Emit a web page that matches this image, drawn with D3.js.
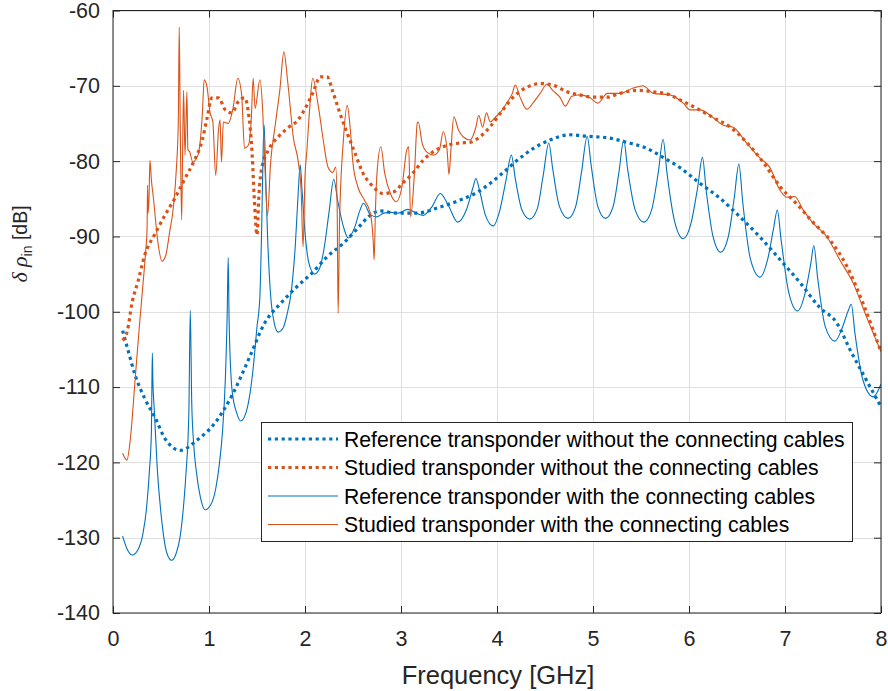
<!DOCTYPE html>
<html>
<head>
<meta charset="utf-8">
<script src="https://cdn.jsdelivr.net/npm/d3@7"></script>
<style>
  body { margin: 0; background: #fff; }
  svg { display: block; font-family: "Liberation Sans", Arial, sans-serif; }
</style>
</head>
<body>
<svg id="chart" width="888" height="691"></svg>
<script>
// [frequency GHz, delta rho_in dB]
const refNoCables = [
  [0.10,-102.5],[0.15,-104.8],[0.23,-108.4],[0.33,-111.5],[0.44,-114.1],[0.54,-116.8],[0.70,-118.4],
  [0.88,-117.0],[1.06,-114.8],[1.24,-111.1],[1.41,-106.4],[1.58,-101.5],[1.76,-98.7],[1.93,-96.5],
  [2.07,-94.9],[2.23,-92.7],[2.40,-90.9],[2.55,-88.9],[2.66,-87.4],[2.78,-86.6],[2.95,-86.9],
  [3.17,-86.9],[3.38,-86.2],[3.61,-85.2],[3.80,-84.1],[4.03,-81.9],[4.21,-79.9],[4.38,-78.3],
  [4.55,-77.2],[4.76,-76.5],[4.94,-76.7],[5.15,-76.9],[5.35,-77.5],[5.56,-78.3],[5.73,-79.5],
  [5.91,-80.9],[6.11,-82.9],[6.32,-84.9],[6.53,-87.4],[6.74,-90.1],[6.95,-93.1],[7.16,-96.2],
  [7.36,-99.4],[7.54,-101.5],[7.68,-105.1],[7.81,-108.2],[8.00,-112.6]
];

const studiedNoCables = [
  [0.10,-103.8],[0.15,-102.5],[0.20,-98.7],[0.26,-96.0],[0.33,-92.5],[0.44,-89.6],[0.54,-87.2],
  [0.65,-84.8],[0.75,-82.3],[0.84,-80.1],[0.93,-77.2],[0.98,-74.3],[1.03,-71.6],[1.10,-71.6],
  [1.17,-73.2],[1.24,-73.6],[1.30,-72.2],[1.37,-71.6],[1.41,-73.5],[1.45,-79.2],[1.47,-84.5],
  [1.50,-89.8],[1.52,-84.5],[1.55,-80.9],[1.62,-78.5],[1.72,-76.8],[1.82,-75.6],[1.93,-74.5],
  [1.98,-73.5],[2.08,-71.0],[2.16,-68.8],[2.23,-68.8],[2.29,-70.8],[2.36,-73.5],[2.44,-76.3],
  [2.52,-78.9],[2.60,-81.5],[2.71,-83.4],[2.81,-84.3],[2.92,-84.1],[3.02,-82.9],[3.13,-81.5],
  [3.23,-79.9],[3.33,-78.8],[3.48,-77.9],[3.61,-77.6],[3.72,-77.5],[3.82,-76.8],[3.93,-75.4],
  [4.06,-73.2],[4.17,-71.5],[4.31,-70.2],[4.45,-69.7],[4.58,-69.9],[4.73,-70.8],[4.86,-71.2],
  [5.00,-71.5],[5.15,-71.5],[5.28,-71.0],[5.46,-70.6],[5.63,-70.8],[5.80,-71.2],[5.91,-71.9],
  [6.08,-73.0],[6.25,-74.2],[6.43,-75.5],[6.60,-77.5],[6.77,-80.1],[6.95,-83.4],[7.13,-85.8],
  [7.29,-88.1],[7.47,-90.5],[7.65,-94.1],[7.81,-98.8],[8.00,-105.3]
];

const refWithCables = [
  [0.10,-129.8],[0.15,-131.6],[0.20,-132.3],[0.26,-131.6],[0.31,-129.6],[0.35,-126.0],[0.38,-121.0],
  [0.40,-116.0],[0.405,-110.0],[0.41,-105.5],[0.415,-109.0],[0.43,-113.0],[0.46,-120.6],[0.51,-128.0],
  [0.56,-132.0],[0.61,-133.0],[0.66,-132.0],[0.70,-129.8],[0.74,-125.0],[0.76,-121.5],[0.79,-113.5],
  [0.805,-99.8],[0.82,-112.0],[0.84,-117.5],[0.87,-121.4],[0.91,-124.6],[0.96,-126.3],[1.02,-125.6],
  [1.07,-123.5],[1.11,-120.0],[1.14,-116.0],[1.17,-109.0],[1.19,-100.0],[1.20,-92.8],[1.21,-101.5],
  [1.24,-110.4],[1.29,-113.5],[1.33,-114.5],[1.38,-113.6],[1.42,-111.4],[1.46,-107.5],[1.50,-102.0],
  [1.53,-98.0],[1.55,-88.0],[1.565,-78.0],[1.575,-75.2],[1.59,-82.0],[1.61,-90.0],[1.64,-97.5],
  [1.68,-101.5],[1.72,-102.7],[1.77,-102.2],[1.81,-100.5],[1.86,-97.0],[1.90,-91.0],[1.93,-84.0],
  [1.95,-80.5],[1.97,-84.0],[2.00,-89.5],[2.04,-93.5],[2.10,-95.0],[2.15,-94.3],[2.20,-91.5],
  [2.25,-86.8],[2.30,-82.4],[2.34,-85.2],[2.40,-88.7],[2.45,-90.2],[2.52,-88.7],[2.57,-86.6],
  [2.61,-85.6],[2.68,-87.1],[2.75,-87.4],[2.82,-86.9],[2.89,-86.8],[2.97,-86.9],[3.07,-86.4],
  [3.16,-86.9],[3.23,-87.2],[3.32,-86.1],[3.41,-84.3],[3.49,-85.8],[3.59,-88.1],[3.68,-86.5],
  [3.75,-83.5],[3.78,-82.3],[3.82,-84.0],[3.88,-87.2],[3.96,-88.6],[4.03,-86.5],[4.09,-82.8],
  [4.15,-79.2],[4.19,-82.3],[4.26,-86.5],[4.34,-87.7],[4.42,-86.3],[4.48,-82.0],[4.54,-77.6],
  [4.58,-81.0],[4.65,-86.0],[4.74,-87.6],[4.82,-86.0],[4.88,-81.5],[4.94,-76.7],[4.98,-80.5],
  [5.05,-86.0],[5.13,-87.6],[5.21,-86.0],[5.27,-81.5],[5.32,-77.2],[5.36,-81.0],[5.44,-86.5],
  [5.53,-88.1],[5.61,-86.5],[5.68,-81.5],[5.73,-77.1],[5.77,-81.5],[5.85,-88.0],[5.94,-90.3],
  [6.02,-88.3],[6.09,-83.5],[6.14,-79.5],[6.18,-84.0],[6.25,-90.0],[6.33,-92.1],[6.41,-90.0],
  [6.47,-85.0],[6.52,-80.4],[6.56,-85.5],[6.64,-93.0],[6.74,-95.4],[6.82,-93.0],[6.88,-89.0],
  [6.92,-86.5],[6.96,-90.5],[7.04,-97.5],[7.13,-99.9],[7.21,-97.5],[7.27,-93.5],[7.30,-91.2],
  [7.34,-95.5],[7.42,-102.0],[7.52,-103.9],[7.60,-102.0],[7.66,-99.8],[7.69,-99.0],[7.73,-103.0],
  [7.81,-109.0],[7.92,-111.3],[8.00,-109.6]
];

const studiedWithCables = [
  [0.10,-118.8],[0.145,-119.7],[0.18,-117.0],[0.23,-109.1],[0.28,-101.1],[0.31,-96.7],[0.34,-92.0],
  [0.355,-89.0],[0.36,-83.2],[0.365,-86.9],[0.375,-85.0],[0.385,-79.9],[0.40,-82.5],[0.42,-84.8],
  [0.47,-91.0],[0.51,-93.3],[0.55,-92.5],[0.59,-89.4],[0.63,-86.0],[0.66,-81.0],[0.68,-75.0],
  [0.69,-62.2],[0.70,-74.5],[0.715,-87.8],[0.725,-79.0],[0.735,-70.6],[0.75,-79.2],[0.77,-70.8],
  [0.78,-78.5],[0.80,-78.8],[0.83,-80.1],[0.885,-79.2],[0.93,-73.9],[0.95,-69.2],[0.98,-70.2],
  [1.01,-73.5],[1.04,-74.8],[1.07,-81.9],[1.10,-75.7],[1.115,-74.5],[1.13,-80.1],[1.15,-74.8],
  [1.20,-75.0],[1.25,-73.0],[1.30,-69.0],[1.34,-71.2],[1.37,-78.3],[1.41,-77.9],[1.44,-74.5],
  [1.46,-69.0],[1.48,-73.0],[1.53,-69.2],[1.56,-73.5],[1.58,-80.0],[1.61,-87.2],[1.64,-80.5],
  [1.69,-75.2],[1.74,-70.3],[1.78,-65.5],[1.82,-69.5],[1.88,-77.0],[1.93,-80.1],[1.96,-84.0],
  [1.98,-91.4],[2.00,-82.0],[2.02,-78.5],[2.05,-72.8],[2.08,-69.0],[2.14,-72.8],[2.19,-77.2],
  [2.24,-80.8],[2.29,-81.5],[2.32,-80.8],[2.335,-86.1],[2.345,-100.2],[2.36,-88.0],[2.40,-77.2],
  [2.44,-72.6],[2.47,-75.5],[2.50,-80.3],[2.55,-83.4],[2.62,-85.2],[2.68,-86.9],[2.71,-90.5],
  [2.72,-93.1],[2.735,-86.0],[2.75,-81.6],[2.79,-78.1],[2.83,-81.6],[2.89,-84.3],[2.95,-85.4],
  [3.01,-83.4],[3.06,-78.5],[3.08,-78.1],[3.10,-87.4],[3.14,-81.6],[3.17,-74.9],[3.18,-74.8],
  [3.22,-77.6],[3.27,-78.8],[3.34,-79.2],[3.40,-78.5],[3.44,-76.1],[3.48,-78.5],[3.50,-81.8],
  [3.52,-78.5],[3.55,-74.1],[3.60,-75.9],[3.65,-76.8],[3.72,-77.2],[3.78,-75.5],[3.81,-73.9],
  [3.85,-75.5],[3.89,-73.6],[3.93,-74.8],[3.98,-74.2],[4.03,-73.6],[4.10,-72.3],[4.16,-71.0],
  [4.19,-69.9],[4.24,-71.5],[4.31,-73.1],[4.38,-72.2],[4.45,-71.0],[4.52,-69.8],[4.58,-70.6],
  [4.66,-71.6],[4.71,-72.7],[4.78,-71.4],[4.86,-71.2],[4.97,-71.6],[5.05,-72.3],[5.15,-71.0],
  [5.28,-71.0],[5.42,-70.3],[5.52,-70.0],[5.63,-71.0],[5.80,-71.2],[5.94,-72.3],[6.01,-73.2],
  [6.11,-73.2],[6.25,-74.2],[6.35,-75.2],[6.46,-75.5],[6.60,-77.6],[6.74,-79.6],[6.84,-80.8],
  [6.95,-83.9],[7.02,-84.8],[7.10,-84.7],[7.19,-86.5],[7.29,-88.2],[7.44,-90.1],[7.57,-93.1],
  [7.71,-96.2],[7.85,-100.7],[8.00,-105.3]
];

const xTicks = [0, 1, 2, 3, 4, 5, 6, 7, 8];
const yTicks = [-140, -130, -120, -110, -100, -90, -80, -70, -60];

const legendLabels = [
  'Reference transponder without the connecting cables',
  'Studied transponder without the connecting cables',
  'Reference transponder with the connecting cables',
  'Studied transponder with the connecting cables'
];

const BLUE = '#0072BD';
const ORANGE = '#D95319';
const AXIS_COLOR = '#262626';
const GRID_COLOR = '#dfdfdf';
const TICK_LEN = 7;

const PLOT = { left: 113, right: 881, top: 10.5, bottom: 613 };

const seriesList = [
  { data: refNoCables, color: BLUE, dotted: true, label: legendLabels[0] },
  { data: studiedNoCables, color: ORANGE, dotted: true, label: legendLabels[1] },
  { data: refWithCables, color: BLUE, dotted: false, label: legendLabels[2] },
  { data: studiedWithCables, color: ORANGE, dotted: false, label: legendLabels[3] }
];

const svg = d3.select('#chart');

const x = d3.scaleLinear().domain([0, 8]).range([PLOT.left, PLOT.right]);
const y = d3.scaleLinear().domain([-140, -60]).range([PLOT.bottom, PLOT.top]);

drawGrid();
drawSeries();
drawAxes();
drawLegend();
drawLabels();

function drawGrid() {
  const grid = svg.append('g').attr('class', 'grid');

  grid.selectAll('.gx')
    .data(xTicks)
    .enter()
    .append('line')
    .attr('x1', d => Math.round(x(d)) + 0.5)
    .attr('x2', d => Math.round(x(d)) + 0.5)
    .attr('y1', PLOT.top)
    .attr('y2', PLOT.bottom)
    .attr('stroke', GRID_COLOR);

  grid.selectAll('.gy')
    .data(yTicks)
    .enter()
    .append('line')
    .attr('x1', PLOT.left)
    .attr('x2', PLOT.right)
    .attr('y1', d => Math.round(y(d)) + 0.5)
    .attr('y2', d => Math.round(y(d)) + 0.5)
    .attr('stroke', GRID_COLOR);
}

function drawSeries() {
  svg.append('clipPath')
    .attr('id', 'plot-clip')
    .append('rect')
    .attr('x', PLOT.left)
    .attr('y', PLOT.top)
    .attr('width', PLOT.right - PLOT.left)
    .attr('height', PLOT.bottom - PLOT.top);

  const line = d3.line()
    .x(d => x(d[0]))
    .y(d => y(d[1]))
    .curve(d3.curveMonotoneX);

  svg.append('g')
    .attr('clip-path', 'url(#plot-clip)')
    .selectAll('path')
    .data(seriesList)
    .enter()
    .append('path')
    .attr('d', s => line(s.data))
    .attr('fill', 'none')
    .attr('stroke', s => s.color)
    .attr('stroke-width', s => s.dotted ? 3.2 : 1.1)
    .attr('stroke-dasharray', s => s.dotted ? '3.2 3.6' : null)
    .attr('stroke-linejoin', 'round');
}

function styleAxis(g) {
  g.select('.domain').remove();
  g.selectAll('.tick line').attr('stroke', AXIS_COLOR);
  g.selectAll('.tick text')
    .attr('fill', AXIS_COLOR)
    .style('font-size', '21.5px');
}

function drawAxes() {
  svg.append('g')
    .attr('transform', `translate(0, ${PLOT.bottom})`)
    .call(d3.axisBottom(x).tickValues(xTicks).tickSizeInner(-TICK_LEN).tickSizeOuter(0).tickPadding(18))
    .call(styleAxis);

  svg.append('g')
    .attr('transform', `translate(0, ${PLOT.top})`)
    .call(d3.axisTop(x).tickValues(xTicks).tickSizeInner(-TICK_LEN).tickSizeOuter(0).tickFormat(''))
    .call(styleAxis);

  svg.append('g')
    .attr('transform', `translate(${PLOT.left}, 0)`)
    .call(d3.axisLeft(y).tickValues(yTicks).tickSizeInner(-TICK_LEN).tickSizeOuter(0).tickPadding(13)
      .tickFormat(d => d3.format('d')(d).replace('\u2212', '-')))
    .call(styleAxis);

  svg.append('g')
    .attr('transform', `translate(${PLOT.right}, 0)`)
    .call(d3.axisRight(y).tickValues(yTicks).tickSizeInner(-TICK_LEN).tickSizeOuter(0).tickFormat(''))
    .call(styleAxis);

  svg.append('rect')
    .attr('x', PLOT.left)
    .attr('y', PLOT.top)
    .attr('width', PLOT.right - PLOT.left)
    .attr('height', PLOT.bottom - PLOT.top)
    .attr('fill', 'none')
    .attr('stroke', AXIS_COLOR)
    .attr('stroke-width', 1);
}

function drawLegend() {
  const box = { x: 261, y: 422, w: 591, h: 119 };
  const ROW0 = 439, ROW_STEP = 28.5;

  const legend = svg.append('g').attr('class', 'legend');

  legend.append('rect')
    .attr('x', box.x + 0.5)
    .attr('y', box.y + 0.5)
    .attr('width', box.w)
    .attr('height', box.h)
    .attr('fill', '#fff')
    .attr('stroke', AXIS_COLOR);

  const item = legend.selectAll('.legend-item')
    .data(seriesList)
    .enter()
    .append('g')
    .attr('class', 'legend-item')
    .attr('transform', (s, i) => `translate(0, ${ROW0 + i * ROW_STEP})`);

  item.append('line')
    .attr('x1', 268)
    .attr('x2', 338)
    .attr('stroke', s => s.color)
    .attr('stroke-width', s => s.dotted ? 3.2 : 1.1)
    .attr('stroke-dasharray', s => s.dotted ? '3.2 3.6' : null);

  item.append('text')
    .attr('x', 344)
    .attr('dy', '0.36em')
    .attr('fill', '#000')
    .style('font-size', '21.2px')
    .text(s => s.label);
}

function drawLabels() {
  svg.append('text')
    .attr('x', 498)
    .attr('y', 684)
    .attr('text-anchor', 'middle')
    .attr('fill', AXIS_COLOR)
    .style('font-size', '25.5px')
    .text('Frequency [GHz]');

  const yLabel = svg.append('text')
    .attr('transform', 'translate(27, 244) rotate(-90)')
    .attr('text-anchor', 'middle')
    .attr('fill', AXIS_COLOR)
    .style('font-size', '19.5px');

  yLabel.append('tspan')
    .style('font-family', '"Liberation Serif", "Times New Roman", serif')
    .style('font-style', 'italic')
    .style('font-size', '22px')
    .text('δ');
  yLabel.append('tspan').text(' ');
  yLabel.append('tspan')
    .style('font-family', '"Liberation Serif", "Times New Roman", serif')
    .style('font-style', 'italic')
    .style('font-size', '22px')
    .text('ρ');
  yLabel.append('tspan')
    .attr('dy', 5)
    .style('font-size', '14px')
    .text('in');
  yLabel.append('tspan')
    .attr('dy', -5)
    .text(' [dB]');
}
</script>
</body>
</html>
